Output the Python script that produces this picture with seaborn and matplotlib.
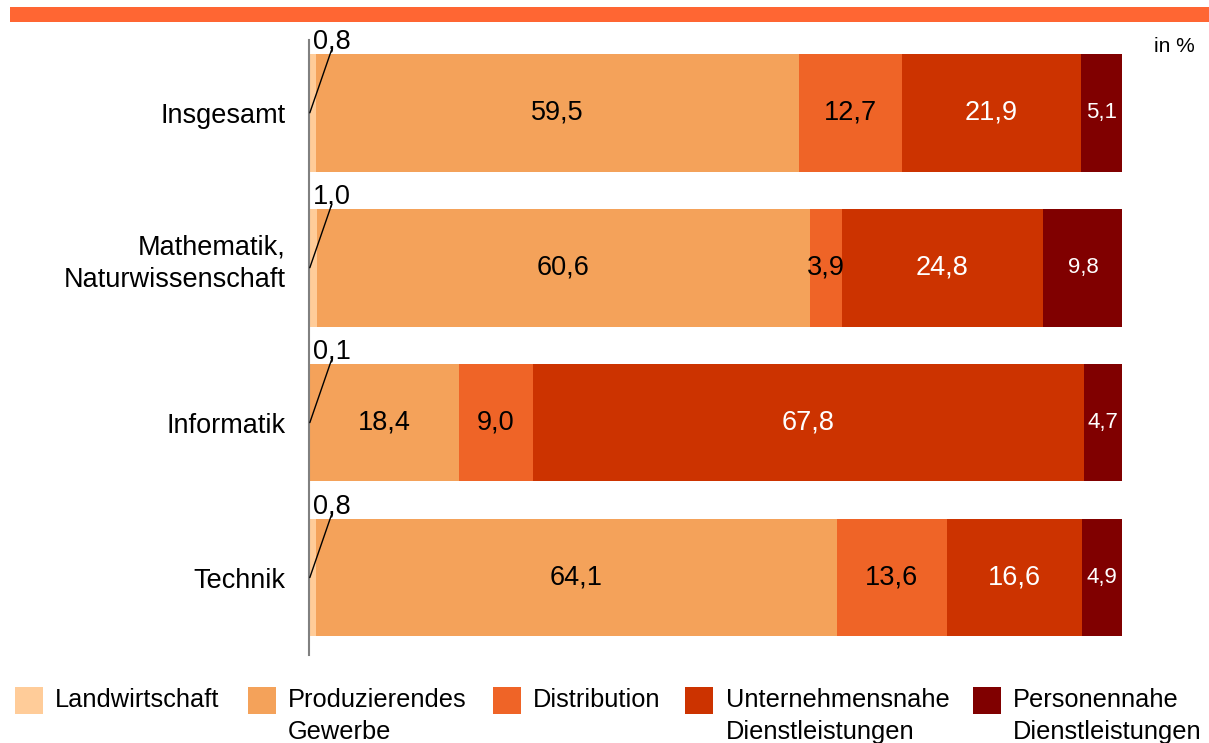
import matplotlib
matplotlib.use("Agg")
import matplotlib.pyplot as plt
from matplotlib.patches import Rectangle
from matplotlib.transforms import ScaledTranslation
import seaborn as sns
import numpy as np
import pandas as pd

categories = ["Insgesamt", "Mathematik,\nNaturwissenschaft", "Informatik", "Technik"]
series = ["Landwirtschaft", "Produzierendes\nGewerbe", "Distribution",
          "Unternehmensnahe\nDienstleistungen", "Personennahe\nDienstleistungen"]
landwirtschaft = [0.8, 1.0, 0.1, 0.8]
produzierendes = [59.5, 60.6, 18.4, 64.1]
distribution = [12.7, 3.9, 9.0, 13.6]
unternehmensnahe = [21.9, 24.8, 67.8, 16.6]
personennahe = [5.1, 9.8, 4.7, 4.9]
colors = ["#FFCC99", "#F4A25A", "#EF6427", "#CC3300", "#800000"]
label_colors = [None, "black", "black", "white", "white"]
label_sizes = [19.5, 19.5, 19.5, 19.5, 16]

values = [landwirtschaft, produzierendes, distribution, unternehmensnahe, personennahe]

sns.set_theme(style="white")
plt.rcParams["font.family"] = ["Liberation Sans", "DejaVu Sans"]
plt.rcParams["text.color"] = "black"
plt.rcParams["ytick.color"] = "black"
plt.rcParams["ytick.labelcolor"] = "black"

fig = plt.figure(figsize=(12.09, 7.43), dpi=100)
ax = fig.add_axes([309 / 1209, 1 - 655 / 743, (1122 - 309) / 1209, 615 / 743])

vals = np.array(values)
cum = np.cumsum(vals, axis=0)
# draw cumulative bars from right-most to left-most
for i in range(len(series) - 1, -1, -1):
    df = pd.DataFrame({"cat": categories, "val": cum[i]})
    sns.barplot(data=df, x="val", y="cat", color=colors[i], width=0.76,
                orient="h", ax=ax, saturation=1, edgecolor="none", linewidth=0)

ax.set_xlim(0, 100)
ax.set_ylim(3.5, -0.47)
ax.set_xlabel("")
ax.set_ylabel("")
ax.set_xticks([])
ax.tick_params(axis="y", length=0, pad=17, labelsize=19.5, labelcolor="black")
for s in ["top", "right", "bottom"]:
    ax.spines[s].set_visible(False)
ax.spines["left"].set_color("#808080")
ax.spines["left"].set_linewidth(1.5)
ax.spines["left"].set_zorder(5)

for lbl in ax.get_yticklabels():
    if "\n" in lbl.get_text():
        lbl.set_linespacing(1.32)
        lbl.set_transform(lbl.get_transform() + ScaledTranslation(0, 10 / 100, fig.dpi_scale_trans))

def fmt(v):
    return f"{v:.1f}".replace(".", ",")

for j in range(len(categories)):
    for i in range(len(series)):
        v = vals[i, j]
        left = cum[i, j] - v
        if i == 0:
            ax.text(0.45, j - 0.46, fmt(v), ha="left", va="center", fontsize=19.5, color="black")
            ax.plot([0.1, 2.8], [j, j - 0.41], color="black", lw=1, clip_on=False, zorder=6)
        else:
            ax.text(left + v / 2, j, fmt(v), ha="center", va="center",
                    fontsize=label_sizes[i], color=label_colors[i])

fig.text(1195 / 1209, 1 - 46 / 743, "in %", ha="right", va="center", fontsize=15)

# top orange band
fig.add_artist(Rectangle((10 / 1209, 1 - 22 / 743), 1 - 10 / 1209, 15 / 743,
                         transform=fig.transFigure, color="#FF6633", lw=0))

# legend
sq_x = [15, 248, 493, 685, 973]
tx_x = [55, 288, 533, 726, 1013]
for i, name in enumerate(series):
    fig.add_artist(Rectangle((sq_x[i] / 1209, 1 - 714 / 743), 28 / 1209, 27 / 743,
                             transform=fig.transFigure, color=colors[i], lw=0))
    fig.text(tx_x[i] / 1209, 1 - 688 / 743, name, ha="left", va="top", fontsize=18.3,
             linespacing=1.4)

fig.savefig("out.png", dpi=100)
